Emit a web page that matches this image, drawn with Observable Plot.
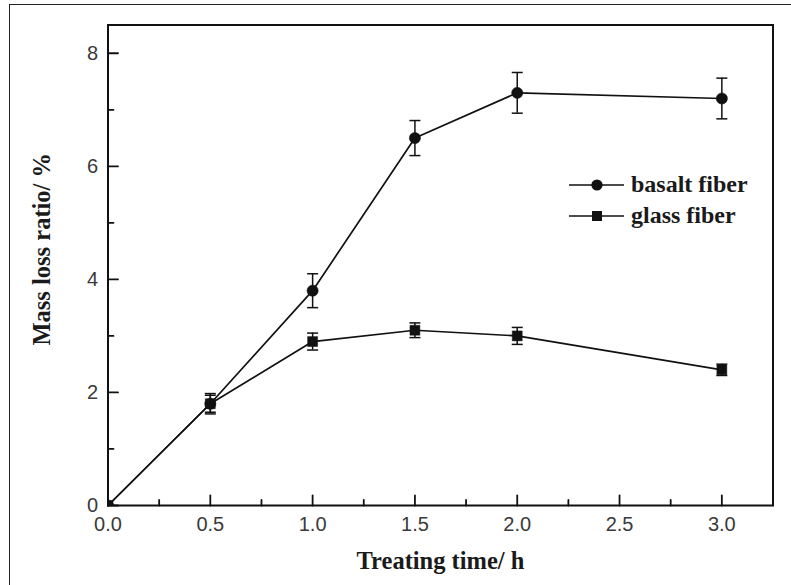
<!DOCTYPE html>
<html><head><meta charset="utf-8">
<script src="https://cdn.jsdelivr.net/npm/d3@7"></script>
<script src="https://cdn.jsdelivr.net/npm/@observablehq/plot@0.6"></script>
<style>
body{margin:0;background:#fff;}
#wrap{position:relative;width:791px;height:585px;overflow:hidden;background:#fff;}
#wrap > svg{position:absolute;left:0;top:0;}
#border{position:absolute;left:9px;top:4px;width:800px;height:600px;border-left:1.5px solid #222;border-top:1.5px solid #222;}
#legend{position:absolute;left:569px;top:169px;font-family:"Liberation Serif",serif;font-weight:bold;font-size:24px;color:#1a1a1a;}
#legend .row{display:flex;align-items:center;height:31px;}
#legend .row svg{display:block;}
#legend .row span{margin-left:7px;line-height:31px;}
</style></head><body><div id="wrap"><div id="border"></div></div>
<script>
const times = [0, 0.5, 1.0, 1.5, 2.0, 3.0];
const basalt = [0, 1.8, 3.8, 6.5, 7.3, 7.2];
const basaltErr = [0, 0.18, 0.3, 0.31, 0.36, 0.36];
const glass = [0, 1.8, 2.9, 3.1, 3.0, 2.4];
const glassErr = [0, 0.15, 0.15, 0.13, 0.15, 0.1];
const seriesNames = ["basalt fiber", "glass fiber"];
const xTicks = [0, 0.5, 1.0, 1.5, 2.0, 2.5, 3.0];
const xMinor = [0.25, 0.75, 1.25, 1.75, 2.25, 2.75];
const yTicks = [0, 2, 4, 6, 8];
const yMinor = [1, 3, 5, 7];

const rows = [];
times.forEach((t, i) => {
  rows.push({t, v: basalt[i], e: basaltErr[i], s: seriesNames[0]});
  rows.push({t, v: glass[i], e: glassErr[i], s: seriesNames[1]});
});
const errRows = rows.filter(d => d.e > 0);
const capSymbol = {draw(ctx, size) { ctx.moveTo(-5.5, 0); ctx.lineTo(5.5, 0); }};
const tickShape = {draw(ctx, l) { ctx.moveTo(0, 0); ctx.lineTo(0, -l); }};
const symbolOf = s => s === seriesNames[0] ? "circle" : "square";
const ink = "#111";
const tickFont = "Liberation Sans, Arial, sans-serif";
const titleFont = "Liberation Serif, Times New Roman, serif";

const chart = Plot.plot({
  width: 791, height: 585,
  marginLeft: 107.5, marginRight: 18.5, marginTop: 24.5, marginBottom: 80,
  style: {background: "transparent", overflow: "visible"},
  x: {domain: [0, 3.25]},
  y: {domain: [0, 8.5]},
  symbol: {domain: seriesNames, range: ["circle", "square"]},
  marks: [
    Plot.axisX(xTicks, {tickSize: 0, tickPadding: 11, tickFormat: d3.format(".1f"), label: null,
      fontFamily: tickFont, fontSize: 20, fill: "#3a3a3a"}),
    Plot.axisY(yTicks, {tickSize: 0, tickPadding: 10, tickFormat: d3.format("d"), label: null,
      fontFamily: tickFont, fontSize: 20, fill: "#3a3a3a"}),
    Plot.vector(xTicks, {x: d => d, frameAnchor: "bottom", length: 10, anchor: "start", rotate: 0, shape: tickShape, stroke: ink, strokeWidth: 1.8}),
    Plot.vector(xMinor, {x: d => d, frameAnchor: "bottom", length: 5.5, anchor: "start", rotate: 0, shape: tickShape, stroke: ink, strokeWidth: 1.8}),
    Plot.vector(yTicks, {y: d => d, frameAnchor: "left", length: 10, anchor: "start", rotate: 90, shape: tickShape, stroke: ink, strokeWidth: 1.8}),
    Plot.vector(yMinor, {y: d => d, frameAnchor: "left", length: 5.5, anchor: "start", rotate: 90, shape: tickShape, stroke: ink, strokeWidth: 1.8}),
    Plot.lineY(rows, {x: "t", y: "v", z: "s", stroke: ink, strokeWidth: 1.7}),
    Plot.ruleX(errRows, {x: "t", y1: d => d.v - d.e, y2: d => d.v + d.e, stroke: ink, strokeWidth: 1.5}),
    Plot.dot(errRows, {x: "t", y: d => d.v + d.e, symbol: () => capSymbol, stroke: ink, fill: "none", strokeWidth: 1.5}),
    Plot.dot(errRows, {x: "t", y: d => d.v - d.e, symbol: () => capSymbol, stroke: ink, fill: "none", strokeWidth: 1.5}),
    Plot.dot(rows, {x: "t", y: "v", symbol: "s", r: 5.6, fill: ink, stroke: ink, strokeWidth: 0.5, clip: true}),
    Plot.frame({stroke: ink, strokeWidth: 2}),
    Plot.text(["Treating time/ h"], {frameAnchor: "bottom", dy: 63, lineAnchor: "bottom", textAnchor: "middle",
      fontFamily: titleFont, fontWeight: "bold", fontSize: 24.5, fill: "#1a1a1a"}),
    Plot.text(["Mass loss ratio/ %"], {frameAnchor: "left", dx: -58, dy: -16, rotate: -90, lineAnchor: "bottom", textAnchor: "middle",
      fontFamily: titleFont, fontWeight: "bold", fontSize: 24.5, fill: "#1a1a1a"})
  ]
});
document.getElementById("wrap").appendChild(chart);

// legend
const legend = document.createElement("div");
legend.id = "legend";
seriesNames.forEach(name => {
  const row = document.createElement("div");
  row.className = "row";
  const sym = d3.create("svg").attr("width", 55).attr("height", 20);
  sym.append("line").attr("x1", 0).attr("x2", 55).attr("y1", 10).attr("y2", 10).attr("stroke", ink).attr("stroke-width", 1.7);
  if (symbolOf(name) === "circle") {
    sym.append("circle").attr("cx", 28).attr("cy", 10).attr("r", 5.6).attr("fill", ink);
  } else {
    sym.append("rect").attr("x", 23).attr("y", 5).attr("width", 10).attr("height", 10).attr("fill", ink);
  }
  row.appendChild(sym.node());
  const label = document.createElement("span");
  label.textContent = name;
  row.appendChild(label);
  legend.appendChild(row);
});
document.getElementById("wrap").appendChild(legend);
</script>
</body></html>
